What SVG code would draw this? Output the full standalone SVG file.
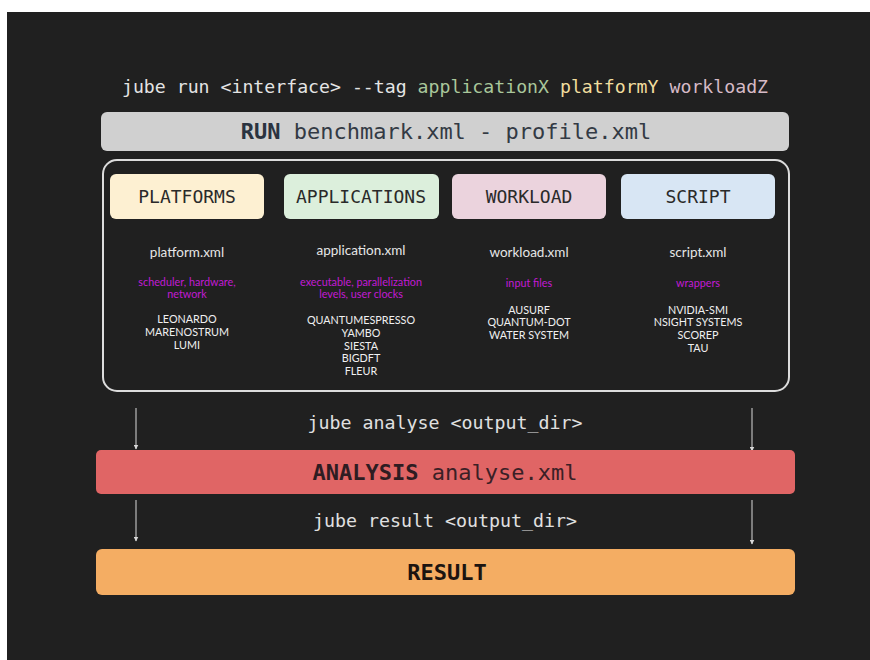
<svg xmlns="http://www.w3.org/2000/svg" width="870" height="660" viewBox="0 0 870 660">
  <defs>
    <marker id="arrow" viewBox="0 0 10 10" refX="9" refY="5" markerWidth="5" markerHeight="5" orient="auto" markerUnits="userSpaceOnUse">
      <path d="M0,0 L10,5 L0,10 z" fill="#d8d8d8"/>
    </marker>
  </defs>
  <style>
    .mono { font-family: "DejaVu Sans Mono", "Liberation Mono", monospace; }
    .sans { font-family: Lato, "Noto Sans", "Liberation Sans", sans-serif; }
    .hdr { font-size: 18px; fill: #2a2a2a; text-anchor: middle; }
    .file { font-size: 13.5px; fill: #e6e6e6; text-anchor: middle; }
    .attr { font-size: 10.8px; fill: #c21ad4; text-anchor: middle; }
    .item { font-size: 10.8px; fill: #f0f0f0; text-anchor: middle; }
    .cmd { font-size: 18.3px; fill: #e0e0e0; text-anchor: middle; }
    .bar { font-size: 22px; text-anchor: middle; }
    .link { stroke: #d8d8d8; stroke-width: 1; fill: none; marker-end: url(#arrow); }
  </style>

  <!-- page -->
  <rect x="0" y="0" width="870" height="660" fill="#ffffff"/>
  <rect x="7" y="12" width="863" height="648" fill="#202020"/>

  <!-- run command -->
  <text class="mono" x="445" y="93" font-size="18.2" text-anchor="middle" fill="#e4e4e4">jube run &lt;interface&gt; --tag <tspan fill="#a9c79b">applicationX</tspan> <tspan fill="#f1dd9e">platformY</tspan> <tspan fill="#d6bac6">workloadZ</tspan></text>

  <g id="run">
    <rect x="101" y="112" width="688" height="39" rx="6" fill="#d0d0d0"/>
    <text class="mono bar" x="446" y="139" fill="#333a44"><tspan font-weight="bold" fill="#2a3340">RUN</tspan> benchmark.xml - profile.xml</text>
  </g>

  <g id="config">
    <rect x="103" y="160" width="686" height="231" rx="14" fill="#202020" stroke="#dcdcdc" stroke-width="2"/>
  </g>

  <g id="platforms">
    <rect x="110" y="174" width="154" height="45" rx="6" fill="#fdf0d2"/>
    <text class="mono hdr" x="187" y="203">PLATFORMS</text>
    <text class="sans file" x="187" y="257">platform.xml</text>
    <text class="sans attr"><tspan x="187" y="286">scheduler, hardware,</tspan><tspan x="187" y="298">network</tspan></text>
    <text class="sans item"><tspan x="187" y="323">LEONARDO</tspan><tspan x="187" y="336">MARENOSTRUM</tspan><tspan x="187" y="349">LUMI</tspan></text>
  </g>

  <g id="applications">
    <rect x="284" y="174" width="155" height="45" rx="6" fill="#dcefdc"/>
    <text class="mono hdr" x="361" y="203">APPLICATIONS</text>
    <text class="sans file" x="361" y="255">application.xml</text>
    <text class="sans attr"><tspan x="361" y="286">executable, parallelization</tspan><tspan x="361" y="298">levels, user clocks</tspan></text>
    <text class="sans item"><tspan x="361" y="324">QUANTUMESPRESSO</tspan><tspan x="361" y="337">YAMBO</tspan><tspan x="361" y="350">SIESTA</tspan><tspan x="361" y="362">BIGDFT</tspan><tspan x="361" y="375">FLEUR</tspan></text>
  </g>

  <g id="workload">
    <rect x="452" y="174" width="154" height="45" rx="6" fill="#ebd3dd"/>
    <text class="mono hdr" x="529" y="203">WORKLOAD</text>
    <text class="sans file" x="529" y="257">workload.xml</text>
    <text class="sans attr" x="529" y="287">input files</text>
    <text class="sans item"><tspan x="529" y="314">AUSURF</tspan><tspan x="529" y="326">QUANTUM-DOT</tspan><tspan x="529" y="339">WATER SYSTEM</tspan></text>
  </g>

  <g id="script">
    <rect x="621" y="174" width="154" height="45" rx="6" fill="#d8e6f4"/>
    <text class="mono hdr" x="698" y="203">SCRIPT</text>
    <text class="sans file" x="698" y="257">script.xml</text>
    <text class="sans attr" x="698" y="287">wrappers</text>
    <text class="sans item"><tspan x="698" y="314">NVIDIA-SMI</tspan><tspan x="698" y="326">NSIGHT SYSTEMS</tspan><tspan x="698" y="339">SCOREP</tspan><tspan x="698" y="352">TAU</tspan></text>
  </g>

  <g id="connectors">
    <line class="link" x1="136" y1="408" x2="136" y2="449"/>
    <line class="link" x1="752" y1="408" x2="752" y2="451"/>
    <line class="link" x1="136" y1="500" x2="136" y2="541"/>
    <line class="link" x1="752" y1="500" x2="752" y2="544"/>
    <text class="mono cmd" x="445" y="429">jube analyse &lt;output_dir&gt;</text>
    <text class="mono cmd" x="445" y="527">jube result &lt;output_dir&gt;</text>
  </g>

  <g id="analysis">
    <rect x="96" y="450" width="699" height="44" rx="5" fill="#e06565"/>
    <text class="mono bar" x="445" y="480" fill="#3a2026"><tspan font-weight="bold" fill="#2e1c22">ANALYSIS</tspan> analyse.xml</text>
  </g>

  <g id="result">
    <rect x="96" y="549" width="699" height="46" rx="6" fill="#f4ad63"/>
    <text class="mono bar" x="447" y="580" font-weight="bold" fill="#1c1410">RESULT</text>
  </g>
</svg>
